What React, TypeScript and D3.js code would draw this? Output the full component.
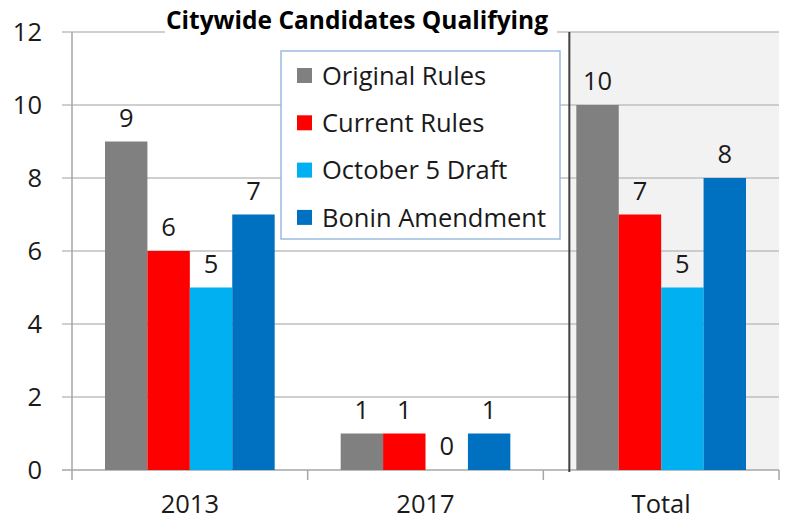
import React, { useEffect, useRef } from 'react'
import * as d3 from 'd3'

const WIDTH = 785
const HEIGHT = 522

const TITLE = 'Citywide Candidates Qualifying'
const categories = ['2013', '2017', 'Total']
const seriesNames = ['Original Rules', 'Current Rules', 'October 5 Draft', 'Bonin Amendment']
const seriesColors = ['#808080', '#ff0000', '#00b0f0', '#0070c0']

const originalRules = [9, 1, 10]
const currentRules = [6, 1, 7]
const october5Draft = [5, 0, 5]
const boninAmendment = [7, 1, 8]
const seriesValues = [originalRules, currentRules, october5Draft, boninAmendment]

const yTicks = [0, 2, 4, 6, 8, 10, 12]

const PLOT = { left: 72, right: 779, top: 32, bottom: 470 }
const FONT = "'Open Sans', sans-serif"
const FONT_SIZE = 25.5
const TEXT_COLOR = '#1a1a1a'
const GRID_COLOR = '#bfbfbf'
const AXIS_COLOR = '#a6a6a6'

const App = () => {
  const ref = useRef<SVGSVGElement>(null)

  useEffect(() => {
    const svg = d3.select(ref.current)
    svg.selectAll('*').remove()

    const xScale = d3.scaleBand()
      .domain(categories)
      .range([PLOT.left, PLOT.right])

    const bw = xScale.bandwidth()
    const x1 = d3.scaleBand()
      .domain(seriesNames)
      .range([33, bw - 33])

    const yScale = d3.scaleLinear()
      .domain([0, 12])
      .range([PLOT.bottom, PLOT.top])

    svg.append('rect')
      .attr('width', WIDTH)
      .attr('height', HEIGHT)
      .attr('fill', 'white')

    // shaded "Total" panel
    const panelX = xScale('Total')! + 26
    svg.append('rect')
      .attr('x', panelX)
      .attr('y', PLOT.top)
      .attr('width', PLOT.right - panelX)
      .attr('height', PLOT.bottom - PLOT.top)
      .attr('fill', '#f2f2f2')

    // gridlines + y ticks
    svg.append('g').selectAll('line')
      .data(yTicks.filter((t) => t > 0))
      .enter()
      .append('line')
      .attr('x1', PLOT.left - 10)
      .attr('x2', PLOT.right)
      .attr('y1', (d) => yScale(d))
      .attr('y2', (d) => yScale(d))
      .attr('stroke', GRID_COLOR)
      .attr('stroke-width', 1.5)

    // y axis
    svg.append('line')
      .attr('x1', PLOT.left).attr('x2', PLOT.left)
      .attr('y1', PLOT.top).attr('y2', PLOT.bottom + 10)
      .attr('stroke', AXIS_COLOR)
      .attr('stroke-width', 1.5)

    svg.append('g').selectAll('text')
      .data(yTicks)
      .enter()
      .append('text')
      .attr('x', 42)
      .attr('y', (d) => yScale(d))
      .attr('dy', '0.36em')
      .attr('text-anchor', 'end')
      .attr('font-family', FONT)
      .attr('font-size', FONT_SIZE)
      .attr('fill', TEXT_COLOR)
      .text((d) => d)

    // x axis
    svg.append('line')
      .attr('x1', PLOT.left - 10).attr('x2', PLOT.right)
      .attr('y1', PLOT.bottom).attr('y2', PLOT.bottom)
      .attr('stroke', AXIS_COLOR)
      .attr('stroke-width', 1.5)

    svg.append('g').selectAll('line')
      .data(categories.slice(1).map((c) => xScale(c)!).concat([PLOT.right]))
      .enter()
      .append('line')
      .attr('x1', (d) => d).attr('x2', (d) => d)
      .attr('y1', PLOT.bottom).attr('y2', PLOT.bottom + 10)
      .attr('stroke', AXIS_COLOR)
      .attr('stroke-width', 1.5)

    svg.append('g').selectAll('text')
      .data(categories)
      .enter()
      .append('text')
      .attr('x', (d) => xScale(d)! + bw / 2)
      .attr('y', 504)
      .attr('dy', '0.36em')
      .attr('text-anchor', 'middle')
      .attr('font-family', FONT)
      .attr('font-size', FONT_SIZE)
      .attr('fill', TEXT_COLOR)
      .text((d) => d)

    // divider before Total
    svg.append('line')
      .attr('x1', panelX).attr('x2', panelX)
      .attr('y1', PLOT.top).attr('y2', PLOT.bottom + 2)
      .attr('stroke', '#404040')
      .attr('stroke-width', 2)

    // bars
    const groups = svg.append('g').selectAll('g')
      .data(categories)
      .enter()
      .append('g')
      .attr('transform', (d) => `translate(${xScale(d)}, 0)`)

    const cells = groups.selectAll('g')
      .data((d, ci) => seriesNames.map((s, si) => ({ s, si, v: seriesValues[si][ci] })))
      .enter()
      .append('g')

    cells.append('rect')
      .attr('x', (d) => x1(d.s)!)
      .attr('y', (d) => yScale(d.v))
      .attr('width', x1.bandwidth())
      .attr('height', (d) => PLOT.bottom - yScale(d.v))
      .attr('fill', (d) => seriesColors[d.si])

    cells.append('text')
      .attr('x', (d) => x1(d.s)! + x1.bandwidth() / 2)
      .attr('y', (d) => yScale(d.v) - 15)
      .attr('text-anchor', 'middle')
      .attr('font-family', FONT)
      .attr('font-size', FONT_SIZE)
      .attr('fill', TEXT_COLOR)
      .text((d) => d.v)

    // title with white backing over the top gridline
    svg.append('rect')
      .attr('x', 165)
      .attr('y', 22)
      .attr('width', 392)
      .attr('height', 16)
      .attr('fill', 'white')

    svg.append('text')
      .attr('x', 357)
      .attr('y', 29)
      .attr('text-anchor', 'middle')
      .attr('font-family', FONT)
      .attr('font-weight', 'bold')
      .attr('font-size', 24.5)
      .attr('fill', '#000')
      .text(TITLE)

    // legend
    const legend = svg.append('g')
    legend.append('rect')
      .attr('x', 281)
      .attr('y', 51)
      .attr('width', 279)
      .attr('height', 188)
      .attr('fill', 'white')
      .attr('stroke', '#9bbbe0')
      .attr('stroke-width', 1.5)

    const items = legend.selectAll('g.item')
      .data(seriesNames)
      .enter()
      .append('g')
      .attr('class', 'item')
      .attr('transform', (d, i) => `translate(297, ${75.5 + i * 47.3})`)

    items.append('rect')
      .attr('x', 0)
      .attr('y', -7.5)
      .attr('width', 15)
      .attr('height', 15)
      .attr('fill', (d, i) => seriesColors[i])

    items.append('text')
      .attr('x', 25)
      .attr('dy', '0.36em')
      .attr('font-family', FONT)
      .attr('font-size', FONT_SIZE)
      .attr('fill', TEXT_COLOR)
      .text((d) => d)
  }, [])

  return (
    <svg
      ref={ref}
      width={WIDTH}
      height={HEIGHT}
      style={{ position: 'absolute', left: 0, top: 0, display: 'block' }}
    />
  )
}

export default App
